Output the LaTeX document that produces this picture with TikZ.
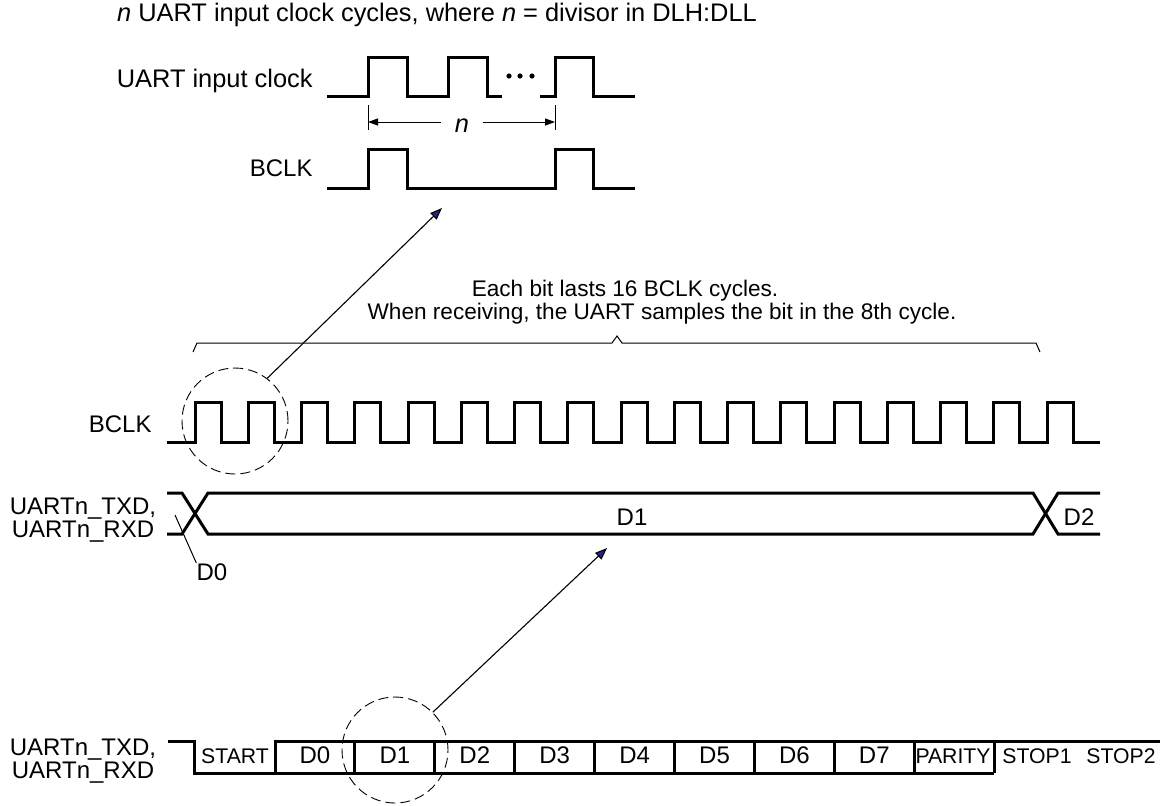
\documentclass[tikz,border=0pt]{standalone}
\usepackage{fontspec}
\setmainfont{Liberation Sans}
\usetikzlibrary{arrows.meta}
\definecolor{tipblue}{RGB}{35,35,140}
\begin{document}
\begin{tikzpicture}[x=0.5pt, y=-0.5pt, font=\fontsize{12}{14}\selectfont,
        wave/.style={line width=1.5pt},
        thinline/.style={line width=0.5pt},
        ring/.style={circle, draw, dash pattern=on 5pt off 2.5pt, line width=0.45pt, minimum size=53pt, inner sep=0pt},
        pointer/.style={line width=0.55pt, -{Triangle[length=6pt,width=4.5pt,fill=tipblue]}},
        dimarrow/.style={line width=0.5pt, -{Triangle[length=5pt,width=3.5pt]}},
        lab/.style={inner sep=0pt, anchor=base east},
        txt/.style={inner sep=0pt, anchor=base},
        big/.style={font=\fontsize{12.7}{15}\selectfont},
        small/.style={font=\fontsize{11.3}{13}\selectfont},
        narrow/.style={font=\fontsize{10.6}{12}\selectfont}]
    \useasboundingbox (0,0) rectangle (1170,805);
    \node[txt, big] (title) at (437,21) {\textit{n} UART input clock cycles, where \textit{n} = divisor in DLH:DLL};
    \node[lab, big] (clklab) at (313,87) {UART input clock};
    \draw[wave] (327,96) -- (368,96) -- (368,57) -- (407,57) -- (407,96) -- (448,96) -- (448,57) -- (487,57) -- (487,96) -- (502,96);
    \draw[wave] (540,96) -- (555,96) -- (555,57) -- (593,57) -- (593,96) -- (635,96);
    \foreach \x in {509,520,532} \fill (\x,76) circle (1.3pt);
    \draw[thinline] (368,105) -- (368,130) (555,105) -- (555,130);
    \coordinate (nL) at (368,122);
    \coordinate (nR) at (555,122);
    \node[txt, big, inner xsep=7pt] (nlab) at (462,132) {\textit{n}};
    \draw[dimarrow] (nlab.west |- nL) -- (nL);
    \draw[dimarrow] (nlab.east |- nR) -- (nR);
    \node[lab] (bclktop) at (313,176) {BCLK};
    \draw[wave] (327,188) -- (368,188) -- (368,149) -- (407,149) -- (407,188) -- (555,188) -- (555,149) -- (593,149) -- (593,188) -- (635,188);

    \node[txt, small] (bitA) at (625,296) {Each bit lasts 16 BCLK cycles.};
    \node[txt, small] (bitB) at (662,319) {When receiving, the UART samples the bit in the 8th cycle.};
    \draw[thinline] (193,352) -- (197,343) -- (612,343) -- (617,336) -- (622,343) -- (1036,343) -- (1040,352);

    \node[lab] (bclkmid) at (152,432) {BCLK};
    \draw[wave] (167,442) foreach \k in {0,...,16} { -- ({195+53.25*\k},442) -- ++(0,-40) -- ++(26,0) -- ++(0,40) } -- (1100,442);
    \node[ring] (ringA) at (235,421) {};
    \coordinate (tipA) at (442,208);
    \draw[pointer] (ringA.53) -- (tipA);

    \node[txt] (txdA) at (83,514) {UARTn\_TXD,};
    \node[txt] (rxdA) at (83,537) {UARTn\_RXD};
    \draw[wave] (167,493) -- (182,493) -- (208,534) -- (1033,534) -- (1058,493) -- (1100,493);
    \draw[wave] (167,534) -- (182,534) -- (208,493) -- (1033,493) -- (1058,534) -- (1100,534);
    \node[txt] (dzero) at (212,580) {D0};
    \coordinate (dzeroX) at (175,515);
    \draw[thinline] (dzeroX) -- (dzero.north west);
    \node[txt] (done) at (632,525) {D1};
    \node[txt] (dtwo) at (1079,525) {D2};

    \node[ring] (ringB) at (395,750) {};
    \coordinate (tipB) at (607,548);
    \draw[pointer] (ringB.45) -- (tipB);

    \node[txt] (txdB) at (83,755) {UARTn\_TXD,};
    \node[txt] (rxdB) at (83,778) {UARTn\_RXD};
    \draw[wave] (168,741) -- (194,741) -- (194,773) -- (994,773);
    \draw[wave] (275,773) -- (275,741) -- (1160,741);
    \foreach \k in {1,...,9} \draw[wave] ({275+79.9*\k},741) -- ({275+79.9*\k},773);
    \node[txt, narrow] (start) at (235,763) {START};
    \foreach \name [count=\i] in {D0,D1,D2,D3,D4,D5,D6,D7}
        \node[txt] (bit\i) at ({275+79.9*(\i-1)+40},763) {\name};
    \node[txt, narrow] (parity) at (953,763) {PARITY};
    \node[txt, narrow] (stopA) at (1037,763) {STOP1};
    \node[txt, narrow] (stopB) at (1121,763) {STOP2};
\end{tikzpicture}
\end{document}
